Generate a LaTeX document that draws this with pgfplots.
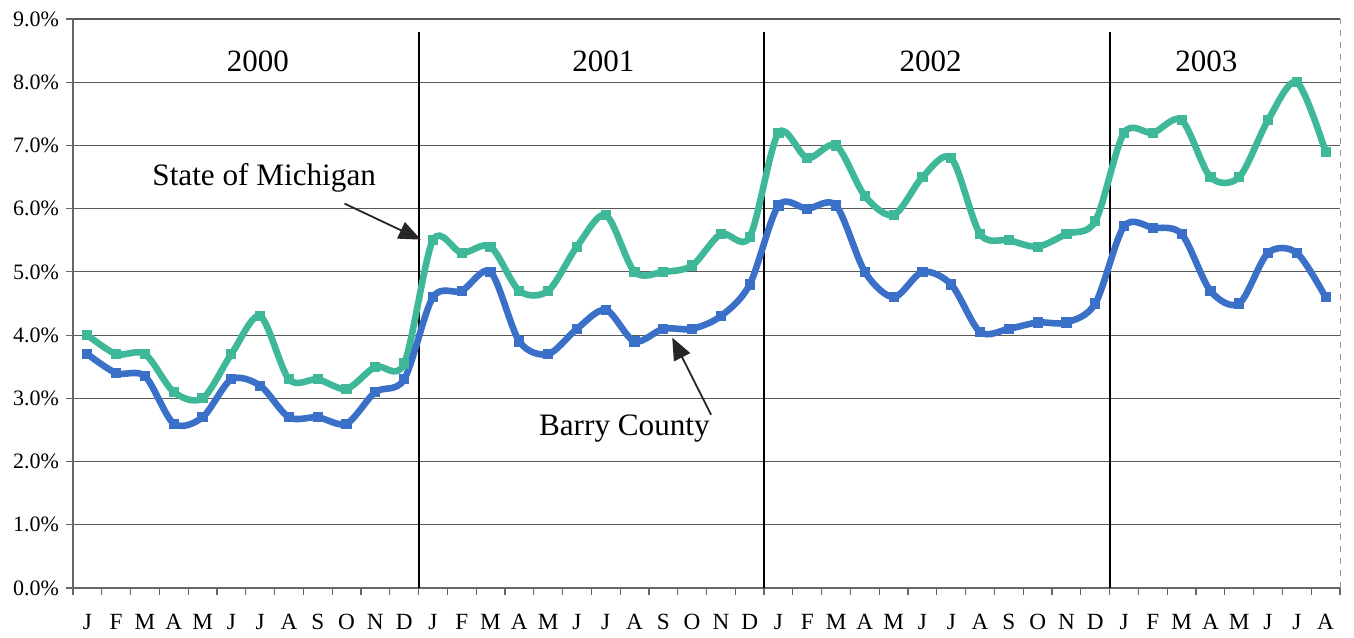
\documentclass[border=0pt]{standalone}
\usepackage{fontspec}
\setmainfont{Liberation Serif}
\usepackage{pgfplots}
\pgfplotsset{compat=1.18}
\usepackage{pgfplotstable}
\usetikzlibrary{arrows.meta}

\definecolor{mich}{RGB}{62,184,152}
\definecolor{barry}{RGB}{58,112,200}

% monthly unemployment, Jan 2000 - Aug 2003
\pgfplotstableread{
x  mi   ba
0  4.0  3.7
1  3.7  3.4
2  3.7  3.35
3  3.1  2.6
4  3.0  2.7
5  3.7  3.3
6  4.3  3.2
7  3.3  2.7
8  3.3  2.7
9  3.15 2.6
10 3.5  3.1
11 3.55 3.3
12 5.5  4.6
13 5.3  4.7
14 5.4  5.0
15 4.7  3.9
16 4.7  3.7
17 5.4  4.1
18 5.9  4.4
19 5.0  3.9
20 5.0  4.1
21 5.1  4.1
22 5.6  4.3
23 5.55 4.8
24 7.2  6.05
25 6.8  6.0
26 7.0  6.05
27 6.2  5.0
28 5.9  4.6
29 6.5  5.0
30 6.8  4.8
31 5.6  4.05
32 5.5  4.1
33 5.4  4.2
34 5.6  4.2
35 5.8  4.5
36 7.2  5.72
37 7.2  5.7
38 7.4  5.6
39 6.5  4.7
40 6.5  4.5
41 7.4  5.3
42 8.0  5.3
43 6.9  4.6
}\unemp

\begin{document}
\begin{tikzpicture}
\begin{axis}[
    scale only axis, width=633.5pt, height=284.5pt,
    xmin=-0.5, xmax=43.5, ymin=0, ymax=9,
    axis x line*=bottom, axis y line*=left,
    axis line style={black!60, line width=0.6pt},
    xtick={0,...,43},
    xticklabels={J,F,M,A,M,J,J,A,S,O,N,D,J,F,M,A,M,J,J,A,S,O,N,D,J,F,M,A,M,J,J,A,S,O,N,D,J,F,M,A,M,J,J,A},
    major x tick style={draw=none},
    minor xtick={-0.5,0.5,...,43.5},
    minor tick length=3.5pt, major tick length=3.5pt,
    tick align=outside,
    tick style={black!60, line width=0.6pt},
    xticklabel style={font=\fontsize{11.6}{13}\selectfont, text height=1.5ex, text depth=0.25ex, yshift=-7pt},
    ytick={0,1,...,9},
    yticklabel={\pgfmathprintnumber[fixed,fixed zerofill,precision=1]{\tick}\%},
    yticklabel style={font=\fontsize{11}{13}\selectfont},
    /pgf/number format/assume math mode=true,
    ymajorgrids, grid style={black!65, line width=0.6pt},
    clip=false,
]
\addplot[black, line width=1pt] coordinates {(11.5,0) (11.5,8.8)};
\addplot[black, line width=1pt] coordinates {(23.5,0) (23.5,8.8)};
\addplot[black, line width=1pt] coordinates {(35.5,0) (35.5,8.8)};
\draw[black!40, dashed, line width=0.5pt] (axis cs:43.5,0) -- (axis cs:43.5,9);

\addplot[mich, line width=3.3pt, smooth, mark=square*, mark size=0.9pt] table[x=x, y=mi] {\unemp};
\addplot[barry, line width=3.3pt, smooth, mark=square*, mark size=0.9pt] table[x=x, y=ba] {\unemp};

\node[anchor=base, font=\fontsize{15.5}{18}\selectfont] at (axis cs:5.92,8.17) {2000};
\node[anchor=base, font=\fontsize{15.5}{18}\selectfont] at (axis cs:17.92,8.17) {2001};
\node[anchor=base, font=\fontsize{15.5}{18}\selectfont] at (axis cs:29.28,8.17) {2002};
\node[anchor=base, font=\fontsize{15.5}{18}\selectfont] at (axis cs:38.86,8.17) {2003};

\node[anchor=base, font=\fontsize{15.6}{18}\selectfont] at (axis cs:6.14,6.37) {State of Michigan};
\draw[black!85, line width=0.9pt, -{Triangle[length=11pt,width=9pt]}] (axis cs:8.93,6.08) -- (axis cs:11.58,5.51);
\node[anchor=base, font=\fontsize{15.6}{18}\selectfont] at (axis cs:18.65,2.42) {Barry County};
\draw[black!85, line width=0.9pt, -{Triangle[length=11pt,width=9pt]}] (axis cs:21.66,2.74) -- (axis cs:20.31,3.96);
\end{axis}
\pgfresetboundingbox
\path (current axis.south west) ++(-36.5pt,-24.5pt) rectangle ++(677pt,318.5pt);
\end{tikzpicture}
\end{document}
